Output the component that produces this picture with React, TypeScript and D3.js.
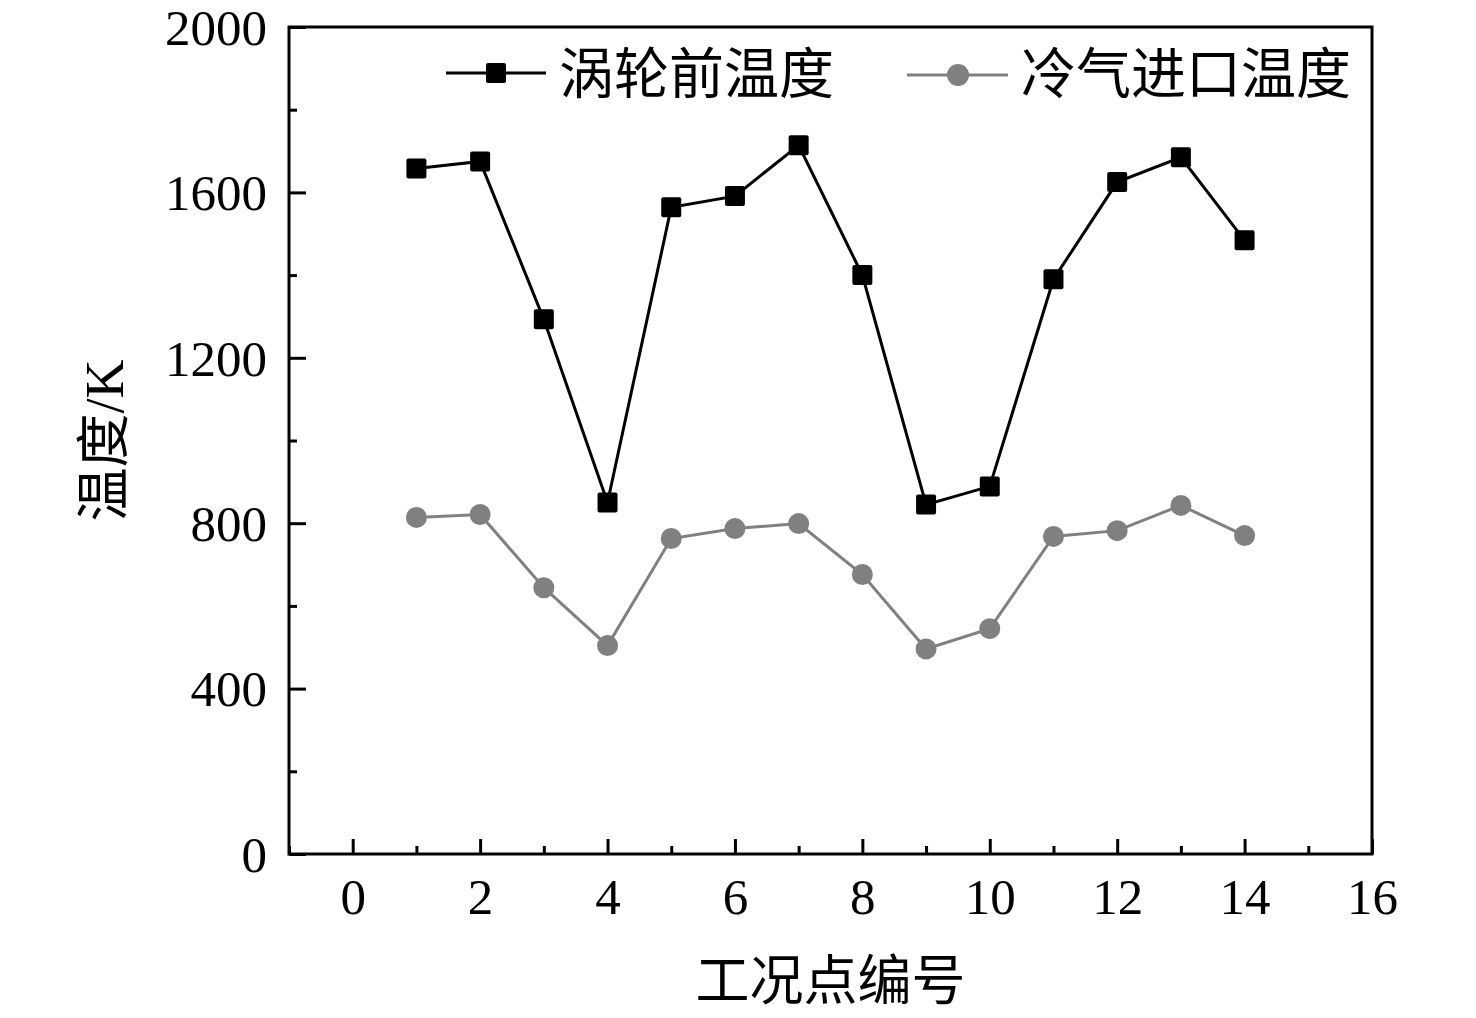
import { useEffect, useRef } from 'react';
import * as d3 from 'd3';

const points = [1, 2, 3, 4, 5, 6, 7, 8, 9, 10, 11, 12, 13, 14];
const turbineTemp = [1658, 1675, 1293, 850, 1564, 1591, 1714, 1400, 845, 889, 1390, 1625, 1685, 1484];
const coolantTemp = [814, 821, 644, 504, 763, 787, 799, 676, 496, 545, 768, 782, 843, 770];
const xTicks = [0, 2, 4, 6, 8, 10, 12, 14, 16];
const xMinor = [-1, 1, 3, 5, 7, 9, 11, 13, 15];
const yTicks = [0, 400, 800, 1200, 1600, 2000];
const yMinor = [200, 600, 1000, 1400, 1800];
const seriesNames = ['涡轮前温度', '冷气进口温度'];

const W = 1476;
const H = 1018;
const margin = { top: 27, right: 104, bottom: 164, left: 289 };
const FONT = "'Liberation Serif', 'Times New Roman', 'Noto Sans CJK SC', serif";

const App = () => {
  const svgRef = useRef<SVGSVGElement>(null);

  useEffect(() => {
    if (!svgRef.current) return;
    const svg = d3.select(svgRef.current);
    svg.selectAll('*').remove();

    const x = d3.scaleLinear().domain([-1, 16]).range([margin.left, W - margin.right]);
    const y = d3.scaleLinear().domain([0, 2000]).range([H - margin.bottom, margin.top]);

    const x0 = margin.left;
    const x1 = W - margin.right;
    const y0 = H - margin.bottom;
    const y1 = margin.top;

    // bottom axis, ticks inward
    const gx = svg.append('g').attr('transform', `translate(0,${y0})`);
    gx.call(d3.axisBottom(x).tickValues(xTicks).tickSize(-15).tickPadding(24).tickFormat(d3.format('d')));
    gx.append('g').call(d3.axisBottom(x).tickValues(xMinor).tickSize(-8).tickFormat(() => ''));

    // left axis
    const gy = svg.append('g').attr('transform', `translate(${x0},0)`);
    gy.call(d3.axisLeft(y).tickValues(yTicks).tickSize(-17).tickPadding(22).tickFormat(d3.format('d')));
    gy.append('g').call(d3.axisLeft(y).tickValues(yMinor).tickSize(-8).tickFormat(() => ''));

    svg.selectAll('.domain').remove();
    svg.selectAll('.tick line').attr('stroke', '#000').attr('stroke-width', 3);
    svg.selectAll('.tick text')
      .attr('font-family', FONT)
      .attr('font-size', 51)
      .attr('fill', '#000');
    gy.selectAll('.tick text').attr('dy', '0.34em');

    // frame
    svg.append('rect')
      .attr('x', x0).attr('y', y1)
      .attr('width', x1 - x0).attr('height', y0 - y1)
      .attr('fill', 'none').attr('stroke', '#000').attr('stroke-width', 3);

    const line = d3.line<number>().x((_, i) => x(points[i])).y(d => y(d));

    // coolant series (gray circles)
    svg.append('path').datum(coolantTemp)
      .attr('d', line).attr('fill', 'none').attr('stroke', '#808080').attr('stroke-width', 3);
    svg.append('g').selectAll('circle').data(coolantTemp).join('circle')
      .attr('cx', (_, i) => x(points[i])).attr('cy', d => y(d)).attr('r', 10.5)
      .attr('fill', '#808080');

    // turbine inlet series (black squares)
    svg.append('path').datum(turbineTemp)
      .attr('d', line).attr('fill', 'none').attr('stroke', '#000').attr('stroke-width', 3);
    svg.append('g').selectAll('rect').data(turbineTemp).join('rect')
      .attr('x', (_, i) => x(points[i]) - 10).attr('y', d => y(d) - 10)
      .attr('width', 20).attr('height', 20).attr('rx', 2)
      .attr('fill', '#000');

    // legend
    const lg = svg.append('g');
    const l1 = lg.append('g').attr('transform', 'translate(446,73)');
    l1.append('line').attr('x1', 0).attr('x2', 100).attr('stroke', '#000').attr('stroke-width', 3);
    l1.append('rect').attr('x', 40).attr('y', -10).attr('width', 20).attr('height', 20).attr('rx', 2).attr('fill', '#000');
    l1.append('text').attr('x', 113).attr('y', 0).attr('dy', '0.36em')
      .attr('font-family', FONT).attr('font-size', 55).text(seriesNames[0]);

    const l2 = lg.append('g').attr('transform', 'translate(907,75)');
    l2.append('line').attr('x1', 0).attr('x2', 101).attr('stroke', '#808080').attr('stroke-width', 3);
    l2.append('circle').attr('cx', 51).attr('cy', 0).attr('r', 11).attr('fill', '#808080');
    l2.append('text').attr('x', 114).attr('y', -2).attr('dy', '0.36em')
      .attr('font-family', FONT).attr('font-size', 55).text(seriesNames[1]);

    // axis titles
    svg.append('text')
      .attr('x', (x0 + x1) / 2).attr('y', 1000)
      .attr('text-anchor', 'middle')
      .attr('font-family', FONT).attr('font-size', 54)
      .text('工况点编号');

    svg.append('text')
      .attr('transform', `translate(123,${(y0 + y1) / 2}) rotate(-90)`)
      .attr('text-anchor', 'middle')
      .attr('font-family', FONT).attr('font-size', 54)
      .text('温度/K');
  }, []);

  return (
    <svg
      ref={svgRef}
      width={W}
      height={H}
      style={{ position: 'absolute', left: 0, top: 0, background: '#fff' }}
    />
  );
};

export default App;
